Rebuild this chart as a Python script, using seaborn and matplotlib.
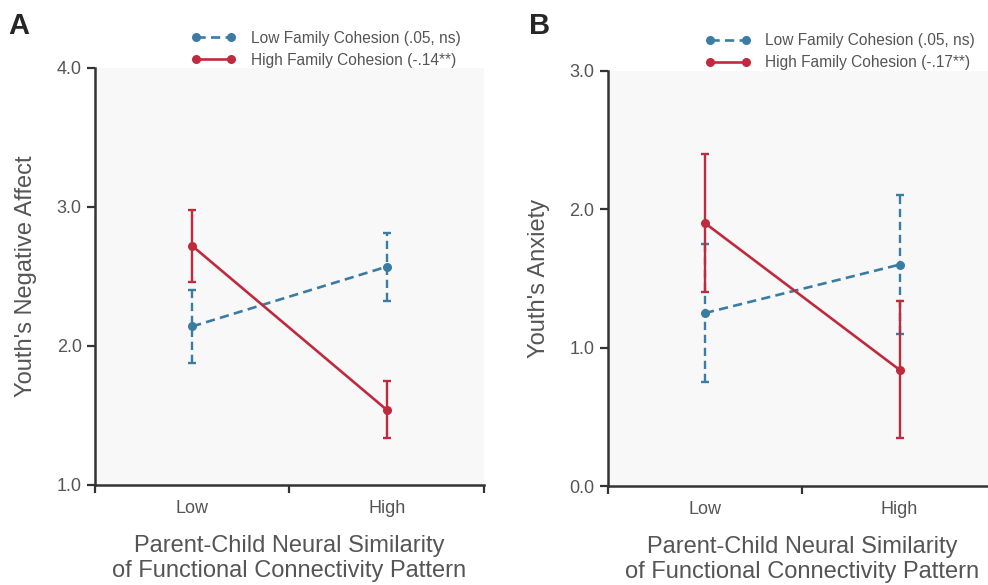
"""
Two-panel interaction plot: youth outcomes by parent-child neural similarity
and family cohesion (means with confidence intervals).
"""

import numpy as np
import pandas as pd
import matplotlib
matplotlib.use('Agg')
import matplotlib.pyplot as plt
import seaborn as sns

# ---- data ----
similarity = ['Low', 'High']

# Panel A: negative affect
affect_low_mean = [2.14, 2.57]
affect_low_lo = [1.88, 2.32]
affect_low_hi = [2.40, 2.81]
affect_high_mean = [2.72, 1.54]
affect_high_lo = [2.46, 1.34]
affect_high_hi = [2.98, 1.75]
affect_labels = ['Low Family Cohesion (.05, ns)', 'High Family Cohesion (-.14**)']

# Panel B: anxiety
anx_low_mean = [1.25, 1.60]
anx_low_lo = [0.75, 1.10]
anx_low_hi = [1.75, 2.10]
anx_high_mean = [1.90, 0.84]
anx_high_lo = [1.40, 0.35]
anx_high_hi = [2.40, 1.34]
anx_labels = ['Low Family Cohesion (.05, ns)', 'High Family Cohesion (-.17**)']

BLUE = '#3a7ca3'
RED = '#c02a3e'
TEXT = '#555555'
SPINE = '#333333'


def make_frame(low_mean, low_lo, low_hi, high_mean, high_lo, high_hi, labels):
    rows = []
    for i, s in enumerate(similarity):
        rows.append({'x': i, 'similarity': s, 'group': labels[0],
                     'mean': low_mean[i], 'lo': low_lo[i], 'hi': low_hi[i]})
    for i, s in enumerate(similarity):
        rows.append({'x': i, 'similarity': s, 'group': labels[1],
                     'mean': high_mean[i], 'lo': high_lo[i], 'hi': high_hi[i]})
    return pd.DataFrame(rows)


def draw_panel(ax, df, labels, ylim, ylabel, legend_anchor):
    ax.set_facecolor('#f8f8f8')
    colors = {labels[0]: BLUE, labels[1]: RED}

    # error bars first so the red line sits on top
    for lab in labels:
        sub = df[df['group'] == lab]
        eb = ax.errorbar(sub['x'], sub['mean'],
                         yerr=[sub['mean'] - sub['lo'], sub['hi'] - sub['mean']],
                         fmt='none', ecolor=colors[lab], elinewidth=1.7,
                         capsize=3, capthick=1.7, zorder=2 if lab == labels[0] else 3)
        if lab == labels[0]:
            eb[2][0].set_linestyle((0, (3.5, 2)))

    sns.lineplot(data=df, x='x', y='mean', hue='group', style='group',
                 hue_order=labels, style_order=labels, palette=colors,
                 dashes={labels[0]: (3.5, 2), labels[1]: ''},
                 markers={labels[0]: 'o', labels[1]: 'o'},
                 markersize=6.5, markeredgewidth=0, linewidth=1.9,
                 errorbar=None, ax=ax, zorder=4)

    handles, _ = ax.get_legend_handles_labels()
    ax.get_legend().remove()
    ax.figure.legend(handles, labels, loc='center left', bbox_to_anchor=legend_anchor,
                     frameon=False, fontsize=11.2, handlelength=2.9, numpoints=2,
                     labelspacing=0.45, handletextpad=0.95, labelcolor=TEXT)

    ax.set_xlim(-0.5, 1.5)
    ax.set_ylim(*ylim)
    ax.set_xticks([-0.5, 0.5, 1.5])
    ax.set_xticklabels([])
    ax.set_xticks([0, 1], minor=True)
    ax.set_xticklabels(similarity, minor=True)
    ax.tick_params(axis='x', which='minor', length=0, pad=11, labelsize=13, labelcolor=TEXT)
    ax.tick_params(axis='x', which='major', length=6, width=1.6, color=SPINE)
    ax.set_yticks(np.arange(ylim[0], ylim[1] + 0.01, 1.0))
    ax.set_yticklabels([f'{v:.1f}' for v in np.arange(ylim[0], ylim[1] + 0.01, 1.0)])
    ax.tick_params(axis='y', length=6, width=1.6, color=SPINE, labelsize=13, labelcolor=TEXT)

    for side in ['top', 'right']:
        ax.spines[side].set_visible(False)
    for side in ['left', 'bottom']:
        ax.spines[side].set_color(SPINE)
        ax.spines[side].set_linewidth(1.8)

    ax.set_xlabel('Parent-Child Neural Similarity\nof Functional Connectivity Pattern',
                  fontsize=17, color=TEXT, labelpad=13, linespacing=1.15)
    ax.set_ylabel(ylabel, fontsize=17, color=TEXT, labelpad=14)


def main():
    sns.set_style('ticks')
    plt.rcParams['font.family'] = ['Liberation Sans', 'DejaVu Sans']

    fig = plt.figure(figsize=(9.88, 5.85), dpi=100)
    ax_a = fig.add_axes([0.096, 0.171, 0.394, 0.713])
    ax_b = fig.add_axes([0.615, 0.169, 0.394, 0.710])

    df_a = make_frame(affect_low_mean, affect_low_lo, affect_low_hi,
                      affect_high_mean, affect_high_lo, affect_high_hi, affect_labels)
    df_b = make_frame(anx_low_mean, anx_low_lo, anx_low_hi,
                      anx_high_mean, anx_high_lo, anx_high_hi, anx_labels)

    draw_panel(ax_a, df_a, affect_labels, (1.0, 4.0), "Youth's Negative Affect", (0.179, 0.916))
    draw_panel(ax_b, df_b, anx_labels, (0.0, 3.0), "Youth's Anxiety", (0.700, 0.912))

    fig.text(0.008, 0.955, 'A', fontsize=21, fontweight='bold', va='center')
    fig.text(0.535, 0.955, 'B', fontsize=21, fontweight='bold', va='center')

    fig.savefig('out.png', dpi=100)
    plt.close(fig)


if __name__ == '__main__':
    main()
